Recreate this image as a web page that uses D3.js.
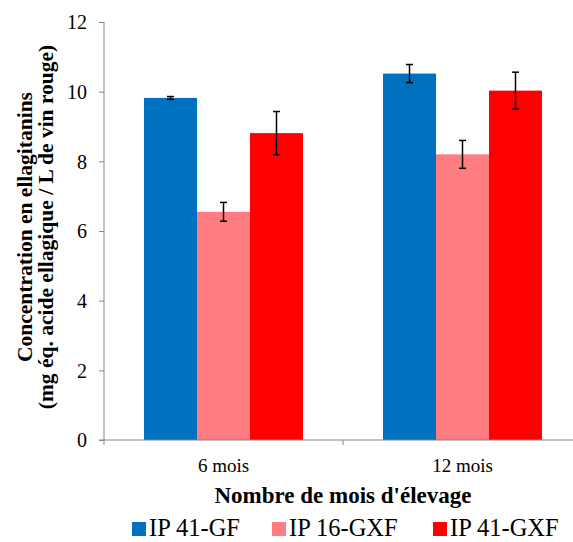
<!DOCTYPE html>
<html><head><meta charset="utf-8">
<script src="https://cdn.jsdelivr.net/npm/d3@7"></script>
<style>body{margin:0;background:#fff}svg{display:block}svg text{font-family:"Liberation Serif","Times New Roman",serif}</style>
</head><body>
<script>
const categories = ["6 mois", "12 mois"];
const seriesNames = ["IP 41-GF", "IP 16-GXF", "IP 41-GXF"];
const seriesColors = ["#0070C0", "#FF7C80", "#FF0000"];
const values = [
  [9.82, 10.52],
  [6.55, 8.20],
  [8.81, 10.03]
];
const errors = [
  [0.04, 0.26],
  [0.27, 0.40],
  [0.62, 0.53]
];
const yTicks = [0, 2, 4, 6, 8, 10, 12];

const W = 573, H = 542;
const svg = d3.select("body").append("svg").attr("width", W).attr("height", H);
const font = "'Liberation Serif', 'Times New Roman', serif";

const x0 = d3.scaleBand().domain(categories).range([104, 582]).paddingInner(0).paddingOuter(0);
const x1 = d3.scaleBand().domain(seriesNames).range([0, x0.bandwidth()]).paddingInner(0).paddingOuter(0.755);
const y = d3.scaleLinear().domain([0, 12]).range([440, 22]);

// bars
const data = [];
seriesNames.forEach((s, si) => categories.forEach((c, ci) => data.push({s, c, v: values[si][ci], e: errors[si][ci], color: seriesColors[si]})));
svg.append("g").selectAll("rect").data(data).join("rect")
  .attr("x", d => x0(d.c) + x1(d.s))
  .attr("y", d => y(d.v))
  .attr("width", x1.bandwidth())
  .attr("height", d => y(0) - y(d.v))
  .attr("fill", d => d.color);

// error bars
const eg = svg.append("g").attr("stroke", "#000").attr("stroke-width", 1.5);
data.forEach(d => {
  const cx = x0(d.c) + x1(d.s) + x1.bandwidth() / 2;
  eg.append("line").attr("x1", cx).attr("x2", cx).attr("y1", y(d.v + d.e)).attr("y2", y(d.v - d.e));
  eg.append("line").attr("x1", cx - 3.5).attr("x2", cx + 3.5).attr("y1", y(d.v + d.e)).attr("y2", y(d.v + d.e));
  eg.append("line").attr("x1", cx - 3.5).attr("x2", cx + 3.5).attr("y1", y(d.v - d.e)).attr("y2", y(d.v - d.e));
});

// y axis
const yAxis = d3.axisLeft(y).tickValues(yTicks).tickSize(5).tickPadding(12).tickFormat(d3.format("d"));
const gy = svg.append("g").attr("transform", "translate(104,0)").call(yAxis)
  .attr("font-family", font).attr("font-size", 20);
gy.select(".domain").attr("stroke", "#868686").attr("d", "M0,22V440");
gy.selectAll(".tick line").attr("stroke", "#868686");
gy.selectAll(".tick text").attr("fill", "#000").attr("dy", "0.34em")
  .style("font-family", font).style("font-size", "20px");

// x axis
const gx = svg.append("g").attr("transform", "translate(0,440)");
gx.append("line").attr("x1", 99).attr("x2", 582).attr("y1", 0).attr("y2", 0).attr("stroke", "#868686");
[104, x0("12 mois"), 582].forEach(t => gx.append("line").attr("x1", t).attr("x2", t).attr("y1", 0).attr("y2", 5).attr("stroke", "#868686"));
gx.selectAll("text.cat").data(categories).join("text").attr("class", "cat")
  .attr("x", d => x0(d) + x0.bandwidth() / 2).attr("y", 32)
  .attr("text-anchor", "middle").style("font-family", font).style("font-size", "19px").text(d => d);

// axis titles
svg.append("text").attr("x", 343).attr("y", 503).attr("text-anchor", "middle")
  .style("font-family", font).style("font-size", "23px").attr("font-weight", "bold").text("Nombre de mois d'élevage");
const yt = svg.append("text").attr("transform", "translate(0,227) rotate(-90)").attr("text-anchor", "middle")
  .style("font-family", font).style("font-size", "21.5px").attr("font-weight", "bold");
yt.append("tspan").attr("x", 0).attr("y", 32).text("Concentration en ellagitanins");
yt.append("tspan").attr("x", 0).attr("y", 53).text("(mg éq. acide ellagique / L de vin rouge)");

// legend
const legendX = [132, 272, 433];
const lg = svg.append("g");
seriesNames.forEach((s, i) => {
  lg.append("rect").attr("x", legendX[i]).attr("y", 522).attr("width", 14).attr("height", 14).attr("fill", seriesColors[i]);
  lg.append("text").attr("x", legendX[i] + 17).attr("y", 536).style("font-family", font).style("font-size", "24.5px").text(s);
});
</script>
</body></html>
